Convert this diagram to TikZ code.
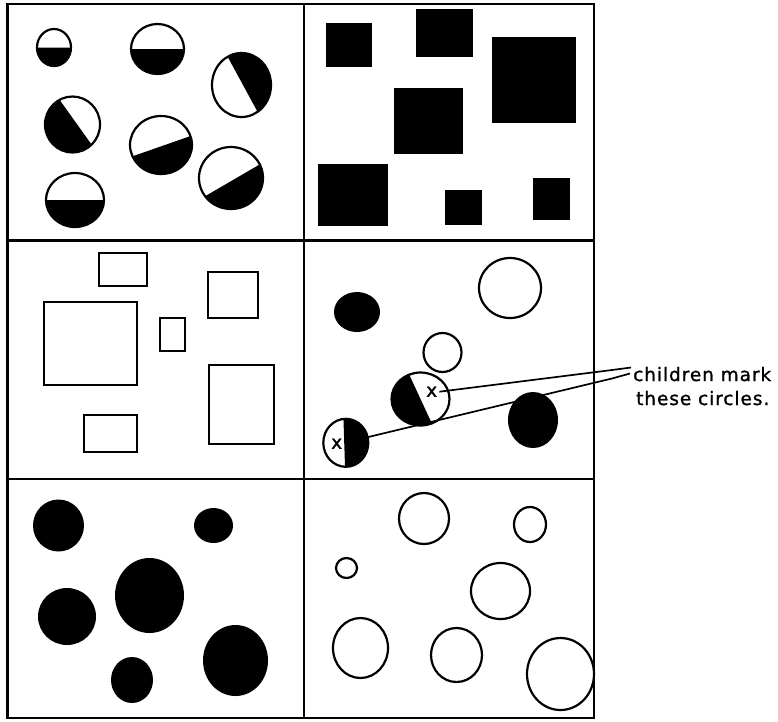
\documentclass[tikz,border=0pt]{standalone}
\usepackage{fontspec}
\newfontfamily\lblfont[LetterSpace=5,FakeBold=1.2]{DejaVu Sans}
\newcommand\halfdisc[6]{%
  \fill (#1,#2) ++(#5:#3 and #4) arc[start angle=#5, end angle=#6, x radius=#3, y radius=#4] -- cycle;
  \draw[ring] (#1,#2) ellipse[x radius=#3, y radius=#4];}
\newcommand\blob[4]{\fill (#1,#2) ellipse[x radius=#3, y radius=#4];}
\newcommand\hoop[4]{\draw[ring] (#1,#2) ellipse[x radius=#3, y radius=#4];}
\tikzset{
  grid/.style={line width=2.2pt, line cap=rect},
  ring/.style={line width=2.2pt},
  box/.style={draw, line width=2.2pt},
  solid box/.style={fill=black},
  lead/.style={line width=1.7pt},
  lbl/.style={inner sep=0pt, font=\lblfont\fontsize{18.5}{24}\selectfont},
}
\begin{document}
\begin{tikzpicture}[x=1pt,y=-1pt]
\useasboundingbox (0,0) rectangle (778,721);
% grid
\draw[grid] (7.5,4) rectangle (594,718);
\draw[grid] (304,4) -- (304,718);
\draw[grid] (7.5,240.5) -- (594,240.5);
\draw[grid] (7.5,479) -- (594,479);

% panel 1: half-black circles
\halfdisc{54}{47.5}{17}{18.5}{0}{180}
\halfdisc{157.5}{49}{26.5}{25}{0}{180}
\halfdisc{241.5}{85}{29.5}{32}{-118}{57}
\halfdisc{72.5}{124.5}{27.5}{28}{46}{242}
\halfdisc{161}{145}{31}{29}{-18}{157}
\halfdisc{231}{178}{32}{31}{-26}{144}
\halfdisc{75}{200}{29}{27}{0}{180}

% panel 2: black squares
\fill[solid box] (326,23) rectangle (372,67);
\fill[solid box] (416,9) rectangle (473,57);
\fill[solid box] (492,37) rectangle (576,123);
\fill[solid box] (394,88) rectangle (463,154);
\fill[solid box] (318,164) rectangle (388,226);
\fill[solid box] (445,190) rectangle (482,225);
\fill[solid box] (533,178) rectangle (570,220);

% panel 3: open rectangles
\draw[box] (99,253) rectangle (147,286);
\draw[box] (208,272) rectangle (258,318);
\draw[box] (44,302) rectangle (137,385);
\draw[box] (160,318) rectangle (185,351);
\draw[box] (209,365) rectangle (274,444);
\draw[box] (84,415) rectangle (137,452);

% panel 4
\blob{357}{312}{23}{20}
\hoop{510}{288}{31}{30}
\hoop{442.5}{352.5}{19}{19.5}
\blob{533}{420}{25}{28}
\halfdisc{420.5}{399}{29}{26.5}{67}{247}
\halfdisc{345.8}{442.8}{22.5}{24}{-96}{92}
\node[lbl] (xm1) at (431.7,391.7) {x};
\node[lbl] (xm2) at (336.7,443.7) {x};
\coordinate (c6e) at (368.3,437);
\node[lbl, anchor=base west] (lab1) at (633,381) {children mark};
\node[lbl, anchor=base west] (lab2) at (636,405) {these circles.};
\coordinate (j1) at (631,367.5);
\coordinate (j2) at (630,373.5);
\draw[lead] ([xshift=2pt]xm1.east) -- (612,370) -- (j1);
\draw[lead] (c6e) -- (612,378.5) -- (j2);

% panel 5: black circles
\blob{58.5}{525.5}{25.5}{26}
\blob{213.5}{525.5}{19.5}{17.5}
\blob{149.5}{595.5}{34.5}{37.5}
\blob{67}{616.5}{29}{28.5}
\blob{235.5}{660.5}{32.5}{35.5}
\blob{132}{680}{21}{23}

% panel 6: open circles
\hoop{424}{518.5}{25}{25.5}
\hoop{530}{524.5}{16}{17.5}
\hoop{346.5}{568}{10.5}{10}
\hoop{500.5}{591}{29.5}{28}
\hoop{360.5}{648}{27.5}{30}
\hoop{456.5}{655}{25.5}{27}
\hoop{560.5}{674}{33.5}{36}
\end{tikzpicture}
\end{document}
